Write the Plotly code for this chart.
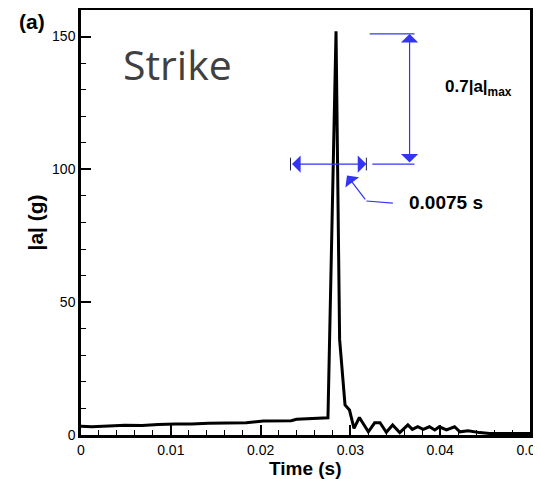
import plotly.graph_objects as go

time_s = [0.0000, 0.0012, 0.0031, 0.0049, 0.0068, 0.0086, 0.0105, 0.0123, 0.0142,
          0.0160, 0.0184, 0.0203, 0.0221, 0.0234, 0.0240, 0.0251, 0.0262, 0.0275,
          0.0284, 0.0288, 0.0294, 0.0299, 0.0304, 0.0310, 0.0320, 0.0327, 0.0333,
          0.0340, 0.0347, 0.0355, 0.0364, 0.0369, 0.0375, 0.0381, 0.0388, 0.0394,
          0.0399, 0.0407, 0.0416, 0.0422, 0.0431, 0.0444, 0.0455, 0.0500]
accel_g = [3.3, 3.1, 3.4, 3.7, 3.6, 4.0, 4.1, 4.1, 4.4,
           4.6, 4.6, 5.3, 5.4, 5.4, 5.9, 6.0, 6.3, 6.5,
           152.0, 36.0, 11.3, 9.4, 2.5, 6.6, 1.2, 4.6, 4.6,
           1.0, 3.8, 0.9, 3.8, 2.1, 3.1, 2.1, 3.1, 1.9,
           3.1, 1.9, 3.1, 1.2, 1.6, 0.9, 0.6, 0.6]

x_ticks = [0, 0.01, 0.02, 0.03, 0.04, 0.05]
x_tick_text = ["0", "0.01", "0.02", "0.03", "0.04", "0.05"]
y_ticks = [0, 50, 100, 150]

# annotation geometry (data units)
peak_level = 151
width_level = 102
width_left, width_right = 0.02333, 0.03178
dim_x = 0.03659

blue = "#3434f4"
font = "Liberation Sans, Arial, sans-serif"

fig = go.Figure()
fig.add_trace(go.Scatter(x=time_s, y=accel_g, mode="lines",
                         line=dict(color="black", width=3), showlegend=False,
                         hoverinfo="skip"))

shapes = [
    dict(type="line", xref="x", yref="y", x0=0.03215, x1=0.03714, y0=peak_level, y1=peak_level,
         line=dict(color=blue, width=1.2)),
    dict(type="line", xref="x", yref="y", x0=0.03244, x1=0.03714, y0=width_level, y1=width_level,
         line=dict(color=blue, width=1.2)),
    dict(type="line", xref="x", yref="y", x0=width_left, x1=width_left, y0=width_level - 2.4,
         y1=width_level + 2.4, line=dict(color="#202040", width=1)),
    dict(type="line", xref="x", yref="y", x0=width_right, x1=width_right, y0=width_level - 2.4,
         y1=width_level + 2.4, line=dict(color="#202040", width=1)),
    dict(type="line", xref="x", yref="y", x0=0.03473, x1=0.03178, y0=87.3, y1=88.1,
         line=dict(color=blue, width=1.2)),
]

annotations = [
    # horizontal double arrow
    dict(x=width_right, y=width_level, ax=width_left, ay=width_level, xref="x", yref="y",
         axref="x", ayref="y", text="", showarrow=True, arrowside="end+start",
         arrowhead=1, arrowsize=2.4, arrowwidth=1.2, arrowcolor=blue, standoff=0, startstandoff=0),
    # vertical double arrow
    dict(x=dim_x, y=peak_level, ax=dim_x, ay=width_level, xref="x", yref="y",
         axref="x", ayref="y", text="", showarrow=True, arrowside="end+start",
         arrowhead=1, arrowsize=2.4, arrowwidth=1.2, arrowcolor=blue, standoff=0, startstandoff=0),
    # pointer arrow
    dict(x=0.02962, y=97.7, ax=0.03178, ay=88.1, xref="x", yref="y", axref="x", ayref="y",
         text="", showarrow=True, arrowhead=1, arrowsize=2.4, arrowwidth=1.2, arrowcolor=blue,
         standoff=0),
    dict(x=0.03626, y=87.6, xref="x", yref="y", text="<b>0.0075 s</b>", showarrow=False,
         xanchor="left", yanchor="middle", font=dict(family=font, size=19, color="black")),
    dict(x=0.04026, y=130.5, xref="x", yref="y", text="<b>0.7|a|<sub>max</sub></b>",
         showarrow=False, xanchor="left", yanchor="middle",
         font=dict(family=font, size=17, color="black")),
    dict(x=0.0108, y=139.5, xref="x", yref="y", text="Strike", showarrow=False,
         xanchor="center", yanchor="middle",
         font=dict(family="Open Sans, sans-serif", size=41, color="#404040")),
    dict(x=0, y=1, xref="paper", yref="paper", xshift=-49, yshift=-11, text="<b>(a)</b>",
         showarrow=False, xanchor="center", yanchor="middle",
         font=dict(family=font, size=21, color="black")),
    dict(x=0.5, y=0, xref="paper", yref="paper", yshift=-33,
         text="<b>Time (s)</b>", showarrow=False, xanchor="center", yanchor="middle",
         font=dict(family=font, size=19, color="black")),
    dict(x=0, y=0.5, xref="paper", yref="paper", xshift=-46,
         text="<b>|a| (g)</b>", showarrow=False, xanchor="center", yanchor="middle",
         textangle=-90, font=dict(family=font, size=21, color="black")),
]

# page body has an 8px default margin, so the figure is drawn 8px in from the window corner
fig.update_layout(
    width=533, height=471,
    margin=dict(l=73, r=11, t=2, b=44, autoexpand=False),
    paper_bgcolor="white", plot_bgcolor="white",
    shapes=shapes,
    annotations=annotations,
    font=dict(family=font, size=14, color="black"),
)

fig.update_xaxes(range=[0, 0.05], tickvals=x_ticks, ticktext=x_tick_text,
                 ticks="inside", ticklen=10, tickwidth=1.5, tickcolor="black",
                 showline=True, linecolor="black", linewidth=2.5, mirror=True,
                 showgrid=False, zeroline=False, ticklabeloverflow="allow", automargin=False,
                 minor=dict(dtick=0.002, ticks="inside", ticklen=5, tickwidth=1, tickcolor="black"),
                 tickfont=dict(size=14, family=font))
fig.update_yaxes(range=[0, 160], tickvals=y_ticks, automargin=False,
                 ticks="inside", ticklen=10, tickwidth=1.5, tickcolor="black",
                 showline=True, linecolor="black", linewidth=2.5, mirror=True,
                 showgrid=False, zeroline=False,
                 minor=dict(dtick=10, ticks="inside", ticklen=5, tickwidth=1, tickcolor="black"),
                 tickfont=dict(size=14, family=font))

fig.write_html("out.html")
